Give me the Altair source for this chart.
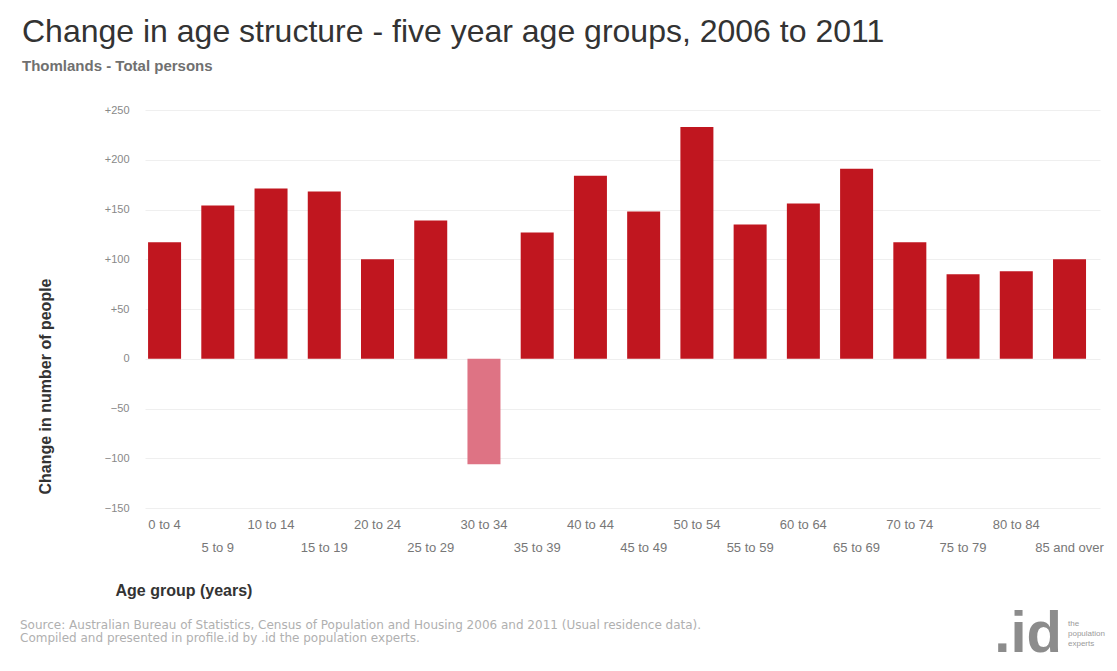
import altair as alt
import pandas as pd

categories = ["0 to 4", "5 to 9", "10 to 14", "15 to 19", "20 to 24", "25 to 29",
              "30 to 34", "35 to 39", "40 to 44", "45 to 49", "50 to 54", "55 to 59",
              "60 to 64", "65 to 69", "70 to 74", "75 to 79", "80 to 84", "85 and over"]
changes = [117, 154, 171, 168, 100, 139, -106, 127, 184, 148, 233, 135, 156, 191, 117, 85, 88, 100]
y_ticks = [-150, -100, -50, 0, 50, 100, 150, 200, 250]

df = pd.DataFrame({"age": categories, "change": changes})
df["sign"] = ["neg" if v < 0 else "pos" for v in changes]

second_row = categories[1::2]
second_row_js = "[" + ",".join("'" + c + "'" for c in second_row) + "]"

W, H = 955, 398

bars = alt.Chart(df).mark_bar().encode(
    x=alt.X("age:N", sort=categories,
            scale=alt.Scale(paddingInner=0.38, paddingOuter=0.16, align=0.18),
            axis=alt.Axis(title="Age group (years)", labelAngle=0,
                          labelExpr="indexof(" + second_row_js + ", datum.value) >= 0 ? ['', datum.label] : datum.label",
                          labelLineHeight=23, labelPadding=10, labelBaseline="top",
                          labelFontSize=13, labelColor="#777", labelFont="Arial",
                          ticks=False, domain=False, grid=False,
                          titleX=-30, titleY=82, titleAlign="left", titleBaseline="middle",
                          titleFontSize=16, titleFont="Arial", titleColor="#333", titleFontWeight="bold")),
    y=alt.Y("change:Q", scale=alt.Scale(domain=[-150, 250], nice=False),
            axis=alt.Axis(title="Change in number of people", values=y_ticks,
                          labelExpr="datum.value > 0 ? '+' + datum.label : datum.label",
                          labelFontSize=11, labelColor="#888", labelFont="Arial", labelPadding=16,
                          ticks=False, domain=False, grid=True, gridColor="#efefef",
                          titleX=-100, titleY=276, titleAlign="center", titleBaseline="middle",
                          titleFontSize=16, titleFont="Arial", titleColor="#333", titleFontWeight="bold")),
    color=alt.Color("sign:N", scale=alt.Scale(domain=["pos", "neg"], range=["#C0161F", "#DE7384"]),
                    legend=None),
)

source = alt.Chart(pd.DataFrame({"t": [0]})).mark_text(
    align="left", baseline="top", fontSize=12, color="#b0b0b0", font="DejaVu Sans", lineHeight=13
).encode(
    x=alt.value(20 - 145), y=alt.value(620 - 110),
    text=alt.value(["Source: Australian Bureau of Statistics, Census of Population and Housing 2006 and 2011 (Usual residence data).",
                    "Compiled and presented in profile.id by .id the population experts."]),
)

logo = alt.Chart(pd.DataFrame({"t": [0]})).mark_text(
    align="right", baseline="alphabetic", fontSize=58, fontWeight="bold", color="#8c8c8c", font="Arial"
).encode(
    x=alt.value(1062 - 145), y=alt.value(652 - 110), text=alt.value(".id"),
)

logo_small = alt.Chart(pd.DataFrame({"t": [0]})).mark_text(
    align="left", baseline="top", fontSize=8, color="#9a9a9a", font="Arial", lineHeight=10
).encode(
    x=alt.value(1068 - 145), y=alt.value(620 - 110),
    text=alt.value(["the", "population", "experts"]),
)

chart = alt.layer(bars, source, logo, logo_small).properties(
    width=W, height=H,
    autosize=alt.AutoSizeParams(type="none"),
    padding={"left": 137, "top": 102, "right": 8, "bottom": 155},
    title=alt.TitleParams(
        text="Change in age structure - five year age groups, 2006 to 2011",
        subtitle="Thomlands - Total persons",
        anchor="start", frame="group", dx=-123, dy=-25,
        fontSize=32, font="Arial", fontWeight="normal", color="#333",
        subtitleFontSize=15, subtitleFont="Arial", subtitleFontWeight="bold",
        subtitleColor="#707070", subtitlePadding=10,
    ),
).configure_view(stroke=None)

chart.save("out.html", embed_options={"renderer": "svg", "actions": False})
